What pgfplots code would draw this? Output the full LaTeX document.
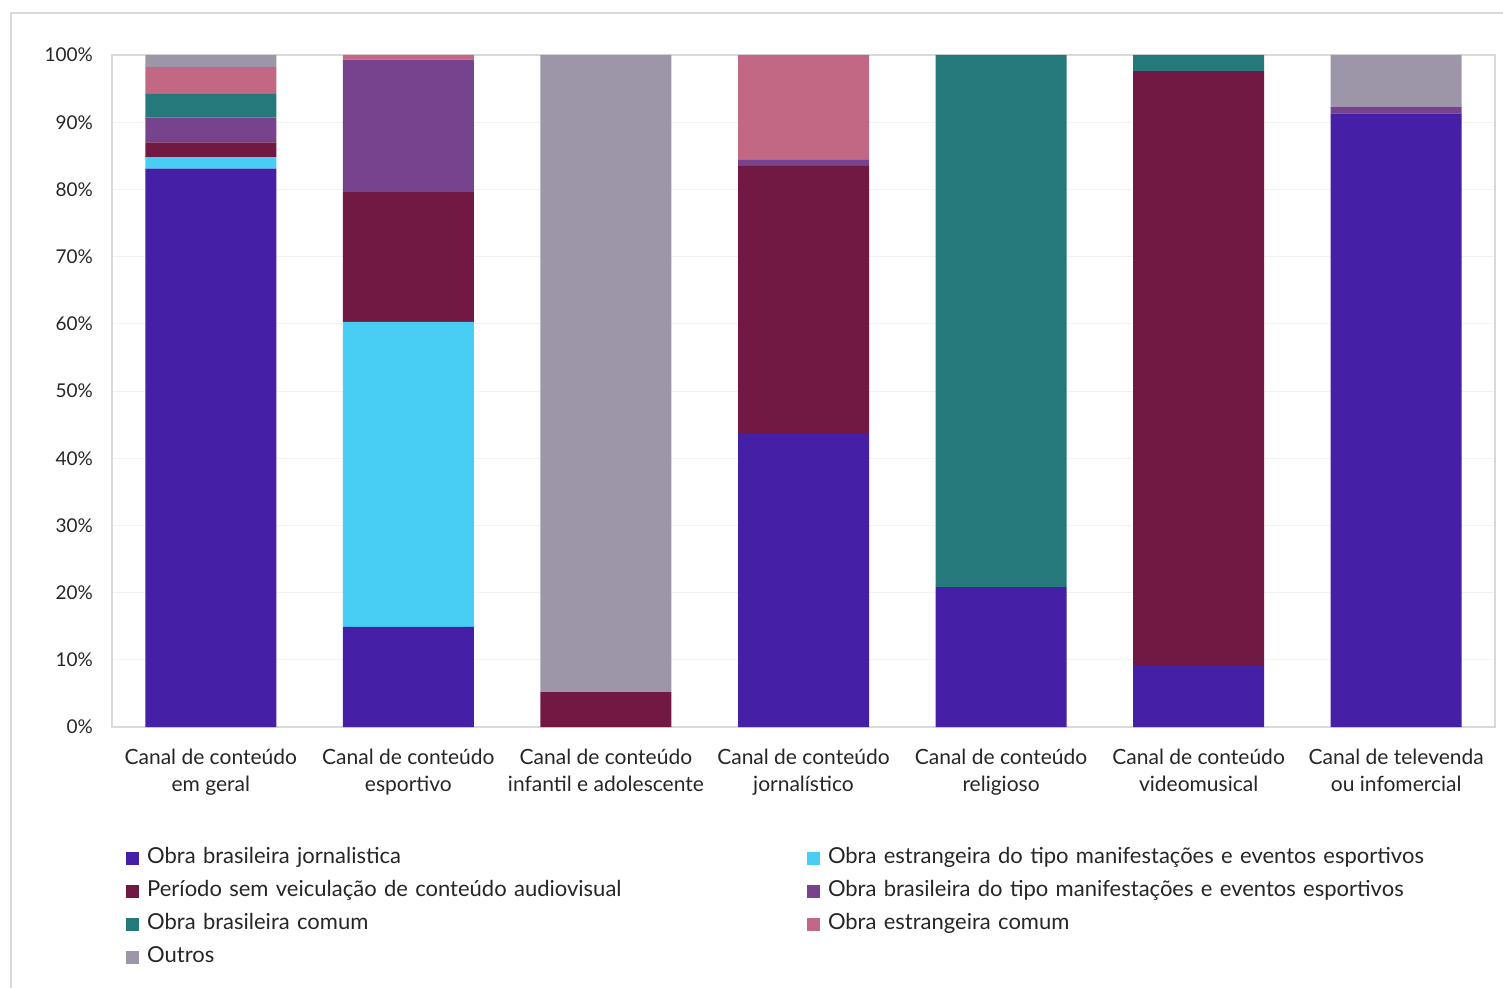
\documentclass[border=0pt]{standalone}
\usepackage{pgfplots}
\pgfplotsset{compat=1.18}
\usepackage{fontspec}
\setmainfont{Lato}
\definecolor{cBlue}{HTML}{4520A6}
\definecolor{cCyan}{HTML}{48CDF5}
\definecolor{cMaroon}{HTML}{721943}
\definecolor{cPurple}{HTML}{78438E}
\definecolor{cTeal}{HTML}{25797A}
\definecolor{cPink}{HTML}{C26884}
\definecolor{cGray}{HTML}{9C96A8}
\definecolor{cText}{HTML}{262626}
\definecolor{cFrame}{HTML}{D9D9D9}
\begin{document}
\begin{tikzpicture}
\useasboundingbox (0pt,0pt) rectangle (751.5pt,493.5pt);
\draw[cFrame, line width=1pt] (5.5pt,-3pt) -- (5.5pt,487pt) -- (755pt,487pt);
\begin{axis}[
  at={(56pt,130pt)}, anchor=south west,
  scale only axis, width=691.5pt, height=336pt,
  ybar stacked, bar width=65.5pt,
  xmin=-0.5, xmax=6.5, ymin=0, ymax=100,
  xtick=data,
  xticklabels={{Canal de conteúdo\\em geral},{Canal de conteúdo\\esportivo},{Canal de conteúdo\\infantil e adolescente},{Canal de conteúdo\\jornalístico},{Canal de conteúdo\\religioso},{Canal de conteúdo\\videomusical},{Canal de televenda\\ou infomercial}},
  xticklabel style={align=center, font=\fontsize{10.5}{13.5}\selectfont, text=cText, yshift=-7.5pt},
  ytick={0,10,...,100},
  yticklabel={\pgfmathprintnumber{\tick}\%},
  yticklabel style={font=\fontsize{9.5}{11}\selectfont, text=cText, xshift=-6pt},
  /pgf/number format/assume math mode=true,
  major tick length=0pt,
  axis line style={cFrame, line width=0.8pt},
  ymajorgrids, grid style={color=black!5, line width=0.5pt},
  legend columns=2,
  legend cell align=left,
  legend style={at={(0,0)}, anchor=north west, xshift=7pt, yshift=-60pt, draw=none, fill=none,
    inner sep=0pt, row sep=5.5pt,
    font=\fontsize{11}{12}\selectfont, text=cText,
    nodes={text width=326pt, text height=8pt, text depth=3pt, inner sep=0pt, inner xsep=4pt}},
  legend image code/.code={\fill[#1] (0pt,-3.2pt) rectangle (6.4pt,3.2pt);},
]
\addplot[fill=cBlue, draw=none] coordinates {(0,83.1) (1,14.9) (2,0) (3,43.6) (4,20.8) (5,9.1) (6,91.3)};
\addplot[fill=cCyan, draw=none] coordinates {(0,1.7) (1,45.4) (2,0) (3,0) (4,0) (5,0) (6,0)};
\addplot[fill=cMaroon, draw=none] coordinates {(0,2.2) (1,19.3) (2,5.2) (3,39.9) (4,0) (5,88.5) (6,0)};
\addplot[fill=cPurple, draw=none] coordinates {(0,3.7) (1,19.7) (2,0) (3,0.9) (4,0) (5,0) (6,1.0)};
\addplot[fill=cTeal, draw=none] coordinates {(0,3.5) (1,0) (2,0) (3,0) (4,79.2) (5,2.4) (6,0)};
\addplot[fill=cPink, draw=none] coordinates {(0,4.0) (1,0.7) (2,0) (3,15.6) (4,0) (5,0) (6,0)};
\addplot[fill=cGray, draw=none] coordinates {(0,1.8) (1,0) (2,94.8) (3,0) (4,0) (5,0) (6,7.7)};
\legend{Obra brasileira jornalistica,Obra estrangeira do tipo manifestações e eventos esportivos,Período sem veiculação de conteúdo audiovisual,Obra brasileira do tipo manifestações e eventos esportivos,Obra brasileira comum,Obra estrangeira comum,Outros}
\end{axis}
\end{tikzpicture}
\end{document}
